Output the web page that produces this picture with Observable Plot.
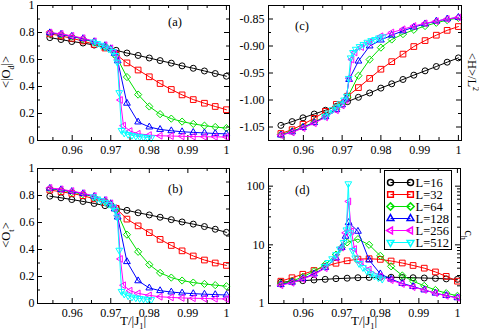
<!DOCTYPE html>
<html><head><meta charset="utf-8">
<script src="https://cdn.jsdelivr.net/npm/d3@7"></script>
<script src="https://cdn.jsdelivr.net/npm/@observablehq/plot@0.6"></script>
<style>
body{margin:0;background:#fff}
#fig{position:relative;width:479px;height:334px;font-family:"Liberation Serif","Times New Roman",serif;background:#fff;overflow:hidden}
#fig svg{position:absolute}
</style>
</head><body><div id="fig"></div>
<script>
// ---------- data ----------
const sizes = ["L=16", "L=32", "L=64", "L=128", "L=256", "L=512"];
const xMajor = [0.96, 0.97, 0.98, 0.99, 1];
const xMinor = [0.955, 0.965, 0.975, 0.985, 0.995];

const T16 = [0.9542, 0.9571, 0.9599, 0.9628, 0.9657, 0.9685, 0.9714, 0.9742, 0.9771, 0.9800, 0.9828, 0.9857, 0.9885, 0.9914, 0.9943, 0.9971, 1.0000];
const T32 = [0.9542, 0.9571, 0.9599, 0.9628, 0.9657, 0.9685, 0.9714, 0.9742, 0.9771, 0.9800, 0.9828, 0.9857, 0.9885, 0.9914, 0.9943, 0.9971, 1.0000];
const T64 = [0.9542, 0.9571, 0.9599, 0.9628, 0.9657, 0.9685, 0.9700, 0.9714, 0.9742, 0.9771, 0.9800, 0.9828, 0.9857, 0.9885, 0.9914, 0.9943, 0.9971, 1.0000];
const T128 = [0.9542, 0.9571, 0.9599, 0.9628, 0.9657, 0.9685, 0.9700, 0.9710, 0.9718, 0.9742, 0.9771, 0.9800, 0.9828, 0.9857, 0.9885, 0.9914, 0.9943, 0.9971, 1.0000];
const T256 = [0.9542, 0.9571, 0.9599, 0.9628, 0.9657, 0.9685, 0.9700, 0.9710, 0.9718, 0.9725, 0.9733, 0.9750, 0.9771, 0.9800, 0.9828, 0.9857, 0.9885, 0.9914, 0.9943, 0.9971, 1.0000];
const T512 = [0.9655, 0.9665, 0.9675, 0.9685, 0.9695, 0.9705, 0.9712, 0.9717, 0.9722, 0.9728, 0.9735, 0.9745, 0.9755, 0.9765, 0.9775, 0.9785, 0.9795, 0.9805];

// (a) <|O_d|>
const Od16 = [0.762, 0.748, 0.733, 0.722, 0.707, 0.690, 0.668, 0.648, 0.630, 0.611, 0.592, 0.573, 0.553, 0.535, 0.515, 0.496, 0.476];
const Od32 = [0.790, 0.775, 0.757, 0.737, 0.712, 0.685, 0.637, 0.575, 0.522, 0.472, 0.422, 0.378, 0.338, 0.303, 0.276, 0.252, 0.228];
const Od64 = [0.797, 0.785, 0.770, 0.752, 0.728, 0.698, 0.675, 0.625, 0.470, 0.340, 0.252, 0.195, 0.162, 0.140, 0.123, 0.110, 0.100, 0.092];
const Od128 = [0.798, 0.787, 0.772, 0.755, 0.732, 0.703, 0.680, 0.645, 0.590, 0.276, 0.137, 0.100, 0.082, 0.072, 0.065, 0.060, 0.056, 0.052, 0.049];
const Od256 = [0.800, 0.790, 0.775, 0.758, 0.735, 0.706, 0.683, 0.650, 0.600, 0.300, 0.110, 0.070, 0.050, 0.040, 0.035, 0.033, 0.031, 0.029, 0.028, 0.027, 0.026];
const Od512 = [0.730, 0.718, 0.706, 0.693, 0.678, 0.660, 0.630, 0.580, 0.355, 0.075, 0.055, 0.045, 0.038, 0.032, 0.028, 0.025, 0.022, 0.020];

// (b) <O_t>
const Ot16 = [0.795, 0.783, 0.770, 0.756, 0.741, 0.725, 0.706, 0.690, 0.672, 0.656, 0.639, 0.621, 0.604, 0.588, 0.570, 0.550, 0.527];
const Ot32 = [0.840, 0.828, 0.815, 0.799, 0.775, 0.748, 0.705, 0.625, 0.575, 0.525, 0.475, 0.430, 0.390, 0.352, 0.322, 0.300, 0.282];
const Ot64 = [0.850, 0.840, 0.825, 0.810, 0.790, 0.758, 0.735, 0.690, 0.510, 0.383, 0.288, 0.227, 0.192, 0.170, 0.155, 0.145, 0.136, 0.128];
const Ot128 = [0.853, 0.843, 0.830, 0.814, 0.793, 0.763, 0.740, 0.700, 0.640, 0.310, 0.168, 0.115, 0.095, 0.085, 0.078, 0.073, 0.069, 0.066, 0.063];
const Ot256 = [0.856, 0.846, 0.833, 0.817, 0.796, 0.766, 0.742, 0.705, 0.650, 0.330, 0.135, 0.095, 0.075, 0.060, 0.050, 0.045, 0.041, 0.039, 0.037, 0.035, 0.034];
const Ot512 = [0.790, 0.775, 0.762, 0.750, 0.735, 0.715, 0.690, 0.640, 0.395, 0.090, 0.070, 0.057, 0.048, 0.042, 0.037, 0.034, 0.031, 0.029];

// (c) <H>/L^2
const H16 = [-1.047, -1.040, -1.033, -1.026, -1.019, -1.012, -1.003, -0.995, -0.987, -0.978, -0.970, -0.962, -0.954, -0.946, -0.938, -0.930, -0.922];
const H32 = [-1.062, -1.055, -1.045, -1.034, -1.021, -1.008, -0.993, -0.977, -0.960, -0.943, -0.929, -0.915, -0.901, -0.890, -0.880, -0.871, -0.864];
const H64 = [-1.064, -1.058, -1.050, -1.041, -1.030, -1.017, -1.008, -0.995, -0.955, -0.925, -0.903, -0.888, -0.878, -0.870, -0.863, -0.857, -0.852, -0.848];
const H128 = [-1.065, -1.059, -1.051, -1.042, -1.031, -1.018, -1.009, -0.998, -0.962, -0.928, -0.900, -0.889, -0.880, -0.872, -0.865, -0.859, -0.854, -0.850, -0.847];
const H256 = [-1.065, -1.060, -1.052, -1.043, -1.032, -1.019, -1.010, -1.000, -0.960, -0.925, -0.912, -0.902, -0.893, -0.882, -0.875, -0.869, -0.863, -0.858, -0.854, -0.850, -0.847];
const H512 = [-1.030, -1.024, -1.018, -1.013, -1.007, -1.000, -0.993, -0.960, -0.922, -0.912, -0.906, -0.901, -0.897, -0.893, -0.890, -0.888, -0.885, -0.883];

// (d) c_h
const C16 = [2.30, 2.38, 2.45, 2.52, 2.58, 2.65, 2.70, 2.75, 2.78, 2.80, 2.80, 2.78, 2.75, 2.72, 2.68, 2.63, 2.58];
const C32 = [2.40, 2.75, 3.15, 3.65, 4.25, 4.85, 5.35, 5.70, 5.80, 5.65, 5.30, 4.90, 4.45, 4.00, 3.45, 2.90, 2.40];
const C64 = [2.15, 2.40, 2.85, 3.55, 4.60, 6.80, 9.0, 11.0, 12.5, 10.0, 6.5, 4.3, 3.0, 2.4, 2.0, 1.7, 1.5, 1.35];
const C128 = [2.10, 2.30, 2.65, 3.20, 4.10, 6.00, 9.0, 14.0, 24.0, 17.0, 5.5, 3.2, 2.6, 2.2, 1.95, 1.7, 1.5, 1.37, 1.25];
const C256 = [2.05, 2.25, 2.60, 3.10, 4.00, 6.00, 9.0, 16.0, 55.0, 17.0, 8.5, 5.0, 3.8, 2.9, 2.5, 2.15, 1.9, 1.7, 1.5, 1.35, 1.25];
const C512 = [4.3, 5.0, 5.8, 6.8, 8.5, 11.0, 18.0, 110.0, 16.0, 8.0, 6.0, 4.8, 4.1, 3.6, 3.2, 2.95, 2.75, 2.6];

// ---------- styles ----------
const Ts = [T16, T32, T64, T128, T256, T512];
const colors = ["#000000", "#ff0000", "#00e000", "#0000ff", "#ff00ff", "#00ffff"];
// custom outline symbols (radius derived from Plot's r)
const poly = (pts) => ({
  draw(ctx, size) {
    const r = Math.sqrt(size / Math.PI);
    pts.forEach(([x, y], i) => i ? ctx.lineTo(x * r, y * r) : ctx.moveTo(x * r, y * r));
    ctx.closePath();
  }
});
const triPts = (ang) => [0, 1, 2].map(i => {
  const a = ang + i * 2 * Math.PI / 3;
  return [1.3 * Math.cos(a), 1.3 * Math.sin(a)];
});
const symbols = [
  "circle",
  poly([[-0.95, -0.95], [0.95, -0.95], [0.95, 0.95], [-0.95, 0.95]]),
  poly([[0, -1.2], [1.2, 0], [0, 1.2], [-1.2, 0]]),
  poly(triPts(-Math.PI / 2)),
  poly(triPts(Math.PI)),
  poly(triPts(Math.PI / 2))
];
const FONT = "'Liberation Serif','Times New Roman',serif";
const xDomain = [0.951, 1.0008];
const xFmt = d => d === 1 ? "1" : d.toFixed(2);
const R = 3;

const fig = document.getElementById("fig");

function panel(cfg) {
  const {left, top, width, height, ml, mr, mt, mb, yDomain, yType, yMajor, yMinor, yFmt, yPad, values} = cfg;
  const fw = width - ml - mr, fh = height - mt - mb;
  const marks = [];
  const id = d => d;
  marks.push(Plot.tickX(xMajor, {x: id, insetTop: fh - 5, stroke: "black"}));
  marks.push(Plot.tickX(xMajor, {x: id, insetBottom: fh - 5, stroke: "black"}));
  marks.push(Plot.tickX(xMinor, {x: id, insetTop: fh - 3, stroke: "black"}));
  marks.push(Plot.tickX(xMinor, {x: id, insetBottom: fh - 3, stroke: "black"}));
  marks.push(Plot.tickY(yMajor, {y: id, insetRight: fw - 5, stroke: "black"}));
  marks.push(Plot.tickY(yMajor, {y: id, insetLeft: fw - 5, stroke: "black"}));
  marks.push(Plot.tickY(yMinor, {y: id, insetRight: fw - 3, stroke: "black"}));
  marks.push(Plot.tickY(yMinor, {y: id, insetLeft: fw - 3, stroke: "black"}));
  values.forEach((vals, i) => {
    const rows = Ts[i].map((t, j) => ({T: t, v: vals[j]}));
    marks.push(Plot.line(rows, {x: "T", y: "v", stroke: colors[i], strokeWidth: 1}));
    marks.push(Plot.dot(rows, {x: "T", y: "v", stroke: colors[i], symbol: symbols[i], r: R, strokeWidth: 1, fill: "none"}));
  });
  marks.push(Plot.frame({stroke: "black"}));
  const svg = Plot.plot({
    width, height, marginLeft: ml, marginRight: mr, marginTop: mt, marginBottom: mb,
    x: {domain: xDomain, ticks: xMajor, tickFormat: xFmt, tickSize: 0, tickPadding: 5, label: null},
    y: {type: yType, domain: yDomain, ticks: yMajor, tickFormat: yFmt, tickSize: 0, tickPadding: yPad, label: null},
    style: {fontFamily: FONT, fontSize: "12px", color: "black", background: "transparent", overflow: "visible"},
    marks
  });
  svg.style.left = left + "px";
  svg.style.top = top + "px";
  fig.appendChild(svg);
}

const fmt01 = d => d === 0 ? "0" : d === 1 ? "1" : d.toFixed(1);
const lin01Major = [0, 0.2, 0.4, 0.6, 0.8, 1];
const lin01Minor = [0.1, 0.3, 0.5, 0.7, 0.9];

panel({left: 0, top: 0, width: 240, height: 160, ml: 37, mr: 11, mt: 5, mb: 20,
  yType: "linear", yDomain: [0, 1], yMajor: lin01Major, yMinor: lin01Minor, yFmt: fmt01, yPad: 3,
  values: [Od16, Od32, Od64, Od128, Od256, Od512]});
panel({left: 0, top: 160, width: 240, height: 174, ml: 37, mr: 11, mt: 8, mb: 31,
  yType: "linear", yDomain: [0, 1], yMajor: lin01Major, yMinor: lin01Minor, yFmt: fmt01, yPad: 3,
  values: [Ot16, Ot32, Ot64, Ot128, Ot256, Ot512]});
panel({left: 240, top: 0, width: 239, height: 160, ml: 28, mr: 18, mt: 5, mb: 20,
  yType: "linear", yDomain: [-1.075, -0.825], yMajor: [-1.05, -1.0, -0.95, -0.9, -0.85],
  yMinor: [-1.025, -0.975, -0.925, -0.875], yFmt: d => d.toFixed(2), yPad: 4,
  values: [H16, H32, H64, H128, H256, H512]});
panel({left: 240, top: 160, width: 239, height: 174, ml: 28, mr: 19, mt: 8, mb: 31,
  yType: "log", yDomain: [1, 200], yMajor: [1, 10, 100],
  yMinor: [2, 3, 4, 5, 6, 7, 8, 9, 20, 30, 40, 50, 60, 70, 80, 90], yFmt: d => String(d), yPad: 4,
  values: [C16, C32, C64, C128, C256, C512]});

// ---------- legend (in panel d) ----------
const legMarks = [];
sizes.forEach((s, i) => {
  const row = [s];
  legMarks.push(Plot.link(row, {x1: () => 0, x2: () => 1, y1: d => d, y2: d => d, stroke: colors[i], strokeWidth: 1}));
  legMarks.push(Plot.dot(row, {x: () => 0, y: d => d, stroke: colors[i], symbol: symbols[i], r: R, fill: "none"}));
  legMarks.push(Plot.dot(row, {x: () => 1, y: d => d, stroke: colors[i], symbol: symbols[i], r: R, fill: "none"}));
  legMarks.push(Plot.text(row, {x: () => 1, y: d => d, text: d => d, dx: 5, textAnchor: "start", fill: "black"}));
});
const leg = Plot.plot({
  width: 66, height: 78, marginLeft: 5, marginRight: 41, marginTop: 9, marginBottom: 5,
  x: {domain: [0, 1], axis: null}, y: {type: "point", domain: sizes, padding: 0, axis: null},
  style: {fontFamily: FONT, fontSize: "12.5px", background: "white", overflow: "visible"},
  marks: legMarks
});
leg.style.left = "384px"; leg.style.top = "170px"; leg.style.border = "1px solid black";
fig.appendChild(leg);

// ---------- axis titles and panel letters ----------
const ov = d3.select(fig).append("svg").attr("width", 479).attr("height", 334)
  .style("left", "0px").style("top", "0px").style("pointer-events", "none")
  .attr("font-family", FONT).attr("fill", "black");

function label(x, y, rot, parts, size) {
  const t = ov.append("text").attr("transform", `translate(${x},${y}) rotate(${rot})`)
    .attr("text-anchor", "middle").attr("font-size", size);
  parts.forEach(p => {
    const ts = t.append("tspan").text(p.t);
    if (p.sub) ts.attr("font-size", size * 0.65).attr("dy", size * 0.3);
    if (p.sup) ts.attr("font-size", size * 0.65).attr("dy", -size * 0.4);
    if (p.back) ts.attr("dy", p.back * size);
  });
}
label(10, 72, -90, [{t: "<|O"}, {t: "d", sub: 1}, {t: "|>", back: -0.3}], 12.5);
label(10, 235, -90, [{t: "<O"}, {t: "t", sub: 1}, {t: ">", back: -0.3}], 12.5);
label(468, 72, 90, [{t: "<H>/L"}, {t: "2", sup: 1}], 12.5);
label(465, 235, 90, [{t: "c"}, {t: "h", sub: 1}], 12.5);
label(133, 325, 0, [{t: "T/|J"}, {t: "1", sub: 1}, {t: "|", back: -0.3}], 13);
label(364, 325, 0, [{t: "T/|J"}, {t: "1", sub: 1}, {t: "|", back: -0.3}], 13);

const letters = [["(a)", 168, 26], ["(b)", 168, 193], ["(c)", 295, 30], ["(d)", 295, 194]];
letters.forEach(([s, x, y]) => ov.append("text").attr("x", x).attr("y", y).attr("font-size", 12.5).text(s));
</script>
</body></html>
